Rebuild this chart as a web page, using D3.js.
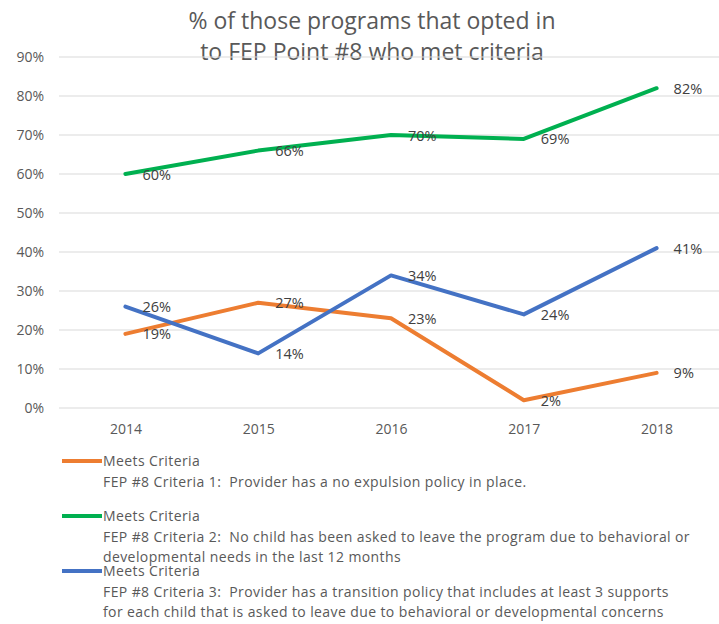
<!DOCTYPE html>
<html>
<head>
<meta charset="utf-8">
<script src="https://cdn.jsdelivr.net/npm/d3@7"></script>
<style>
  body { margin: 0; background: #fff; }
  svg { font-family: "Open Sans", "Noto Sans", sans-serif; }
  text { white-space: pre; }
</style>
</head>
<body>
<svg id="chart" width="719" height="624"></svg>
<script>
// Data
const years = ["2014", "2015", "2016", "2017", "2018"];
const criteria1 = [19, 27, 23, 2, 9];
const criteria2 = [60, 66, 70, 69, 82];
const criteria3 = [26, 14, 34, 24, 41];
const yTicks = [0, 10, 20, 30, 40, 50, 60, 70, 80, 90];
const titleLines = ["% of those programs that opted in", "to FEP Point #8 who met criteria"];

const seriesList = [
  { values: criteria1, color: "#ED7D31",
    legend: ["Meets Criteria", "FEP #8 Criteria 1:  Provider has a no expulsion policy in place."] },
  { values: criteria2, color: "#00B050",
    legend: ["Meets Criteria", "FEP #8 Criteria 2:  No child has been asked to leave the program due to behavioral or",
             "developmental needs in the last 12 months"] },
  { values: criteria3, color: "#4472C4",
    legend: ["Meets Criteria", "FEP #8 Criteria 3:  Provider has a transition policy that includes at least 3 supports",
             "for each child that is asked to leave due to behavioral or developmental concerns"] }
];

const svg = d3.select("#chart");
const margin = { left: 59, right: 723, top: 57, bottom: 408 };

const x = d3.scalePoint()
  .domain(years)
  .range([margin.left, margin.right])
  .padding(0.5);

const y = d3.scaleLinear()
  .domain([0, 90])
  .range([margin.bottom, margin.top]);

// Title
svg.append("g").selectAll("text")
  .data(titleLines)
  .enter().append("text")
  .attr("x", 372)
  .attr("y", (d, i) => 29 + i * 31)
  .attr("text-anchor", "middle")
  .attr("font-size", "23px")
  .attr("fill", "#595959")
  .text(d => d);

// Gridlines
svg.append("g").selectAll("line")
  .data(yTicks)
  .enter().append("line")
  .attr("x1", margin.left)
  .attr("x2", 719)
  .attr("y1", d => y(d))
  .attr("y2", d => y(d))
  .attr("stroke", "#d9d9d9")
  .attr("stroke-width", 1);

// Y axis
const yAxis = svg.append("g")
  .attr("transform", "translate(44,0)")
  .call(d3.axisLeft(y).tickValues(yTicks).tickSize(0).tickFormat(d => d + "%"));
yAxis.select(".domain").remove();
yAxis.selectAll("text")
  .attr("x", 0)
  .attr("font-family", "Open Sans, sans-serif")
  .attr("font-size", "14px")
  .attr("fill", "#595959");

// X axis
const xAxis = svg.append("g")
  .attr("transform", `translate(0,${margin.bottom})`)
  .call(d3.axisBottom(x).tickSize(0));
xAxis.select(".domain").remove();
xAxis.selectAll("text")
  .attr("y", 16)
  .attr("font-family", "Open Sans, sans-serif")
  .attr("font-size", "14px")
  .attr("fill", "#595959");

// Lines
const line = d3.line()
  .x((d, i) => x(years[i]))
  .y(d => y(d));

svg.append("g").selectAll("path")
  .data(seriesList)
  .enter().append("path")
  .attr("d", d => line(d.values))
  .attr("fill", "none")
  .attr("stroke", d => d.color)
  .attr("stroke-width", 4)
  .attr("stroke-linejoin", "round")
  .attr("stroke-linecap", "round");

// Data labels
seriesList.forEach(s => {
  svg.append("g").selectAll("text")
    .data(s.values)
    .enter().append("text")
    .attr("x", (d, i) => x(years[i]) + 17)
    .attr("y", d => y(d) + 5.5)
    .attr("font-size", "14.5px")
    .attr("fill", "#404040")
    .text(d => d + "%");
});

// Legend
const legendTop = [461, 516, 571];
seriesList.forEach((s, k) => {
  const g = svg.append("g").attr("transform", `translate(0,${legendTop[k]})`);
  g.append("line")
    .attr("x1", 62).attr("x2", 102)
    .attr("y1", 0).attr("y2", 0)
    .attr("stroke", s.color)
    .attr("stroke-width", 4);
  g.selectAll("text")
    .data(s.legend)
    .enter().append("text")
    .attr("x", 103)
    .attr("y", (d, i) => i * 20.7 + 5)
    .attr("font-size", "14px")
    .attr("letter-spacing", "0.4px")
    .attr("fill", "#595959")
    .text(d => d);
});
</script>
</body>
</html>
